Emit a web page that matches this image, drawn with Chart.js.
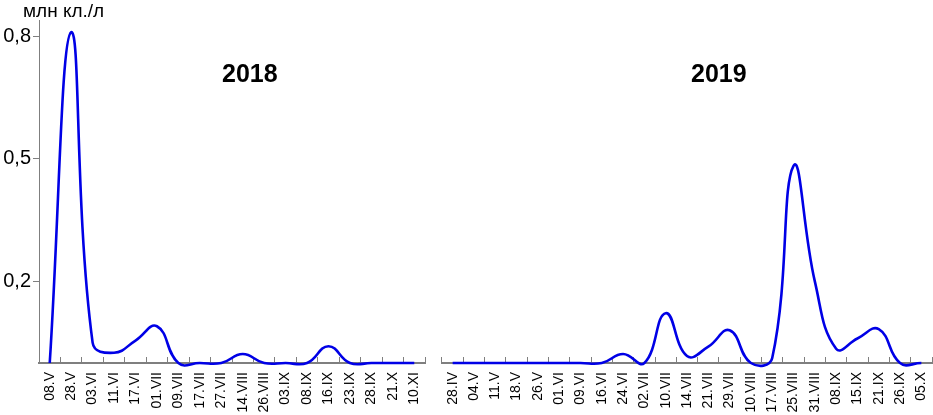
<!DOCTYPE html>
<html>
<head>
<meta charset="utf-8">
<script src="https://cdn.jsdelivr.net/npm/chart.js@4/dist/chart.umd.min.js"></script>
<style>
  html, body { margin: 0; padding: 0; background: #fff; }
  body { width: 933px; height: 415px; position: relative; overflow: hidden; }
  .box { position: absolute; top: 0; height: 415px; }
  .txt { position: absolute; color: #000; white-space: nowrap; }
</style>
</head>
<body>
<div class="box" style="left:0;width:430px;"><canvas id="c2018"></canvas></div>
<div class="box" style="left:433px;width:500px;"><canvas id="c2019"></canvas></div>
<div class="txt" id="unit" style="left:23px;top:0px;font:19px 'Liberation Sans',Arial,sans-serif;">млн кл./л</div>
<div class="txt" id="t2018" style="left:222px;top:59px;font:bold 25px 'Liberation Sans Narrow','Liberation Sans',Arial,sans-serif;">2018</div>
<div class="txt" id="t2019" style="left:691px;top:59px;font:bold 25px 'Liberation Sans Narrow','Liberation Sans',Arial,sans-serif;">2019</div>
<script>
// ---- data ----
const dates2018 = ['08.V','28.V','03.VI','11.VI','17.VI','01.VII','09.VII','17.VII','27.VII','14.VIII','26.VIII','03.IX','08.IX','16.IX','23.IX','28.IX','21.X','10.XI'];
const values2018 = [0, 0.81, 0.05, 0.025, 0.055, 0.09, 0, 0, 0, 0.022, 0, 0, 0, 0.041, 0, 0, 0, 0];
const dates2019 = ['28.IV','04.V','11.V','18.V','26.V','01.VI','09.VI','16.VI','24.VI','02.VII','10.VII','14.VII','21.VII','29.VII','10.VIII','17.VIII','25.VIII','31.VIII','08.IX','15.IX','21.IX','26.IX','05.X'];
const values2019 = [0, 0, 0, 0, 0, 0, 0, 0, 0.022, 0, 0.122, 0.017, 0.04, 0.08, 0, 0.012, 0.483, 0.2, 0.035, 0.06, 0.083, 0, 0];
const yTickValues = [0.2, 0.5, 0.8];
const yMin = 0, yMax = 0.84;

const axisGray = '#7f7f7f';
const lineBlue = '#0000e6';

function makeChart(id, labels, values, showY, pad) {
  return new Chart(document.getElementById(id), {
    type: 'line',
    data: {
      labels: labels,
      datasets: [{
        data: values,
        borderColor: lineBlue,
        borderWidth: 2.6,
        pointRadius: 0,
        tension: 0.45,
        fill: false,
        clip: false
      }]
    },
    options: {
      responsive: true,
      maintainAspectRatio: false,
      animation: false,
      events: [],
      elements: { line: { capBezierPoints: false } },
      layout: { padding: pad },
      plugins: { legend: { display: false }, tooltip: { enabled: false }, title: { display: false } },
      scales: {
        x: {
          type: 'category',
          offset: true,
          afterFit: s => { s.height = 52; s.paddingLeft = 0; s.paddingRight = 0; },
          grid: { offset: true, drawOnChartArea: false, tickLength: -6, color: axisGray, lineWidth: 1 },
          border: { color: axisGray, width: 2 },
          ticks: {
            autoSkip: false, minRotation: 90, maxRotation: 90, padding: 15,
            color: '#000', font: { family: "'Liberation Sans', Arial, sans-serif", size: 14 }
          }
        },
        y: {
          display: showY,
          min: yMin, max: yMax,
          afterFit: s => { s.width = showY ? 39 : 0; },
          afterBuildTicks: s => { s.ticks = yTickValues.map(v => ({ value: v })); },
          grid: { drawOnChartArea: false, tickLength: 6, color: axisGray, lineWidth: 1 },
          border: { color: axisGray, width: 1 },
          ticks: {
            padding: 2, color: '#000',
            font: { family: "'Liberation Sans Narrow', 'Liberation Sans', Arial, sans-serif", size: 20 },
            callback: v => Number(v).toFixed(1).replace('.', ',')
          }
        }
      }
    }
  });
}

makeChart('c2018', dates2018, values2018, true, { top: 20, left: 0, right: 5, bottom: 0 });
makeChart('c2019', dates2019, values2019, false, { top: 20, left: 9, right: 1, bottom: 0 });
</script>
</body>
</html>
